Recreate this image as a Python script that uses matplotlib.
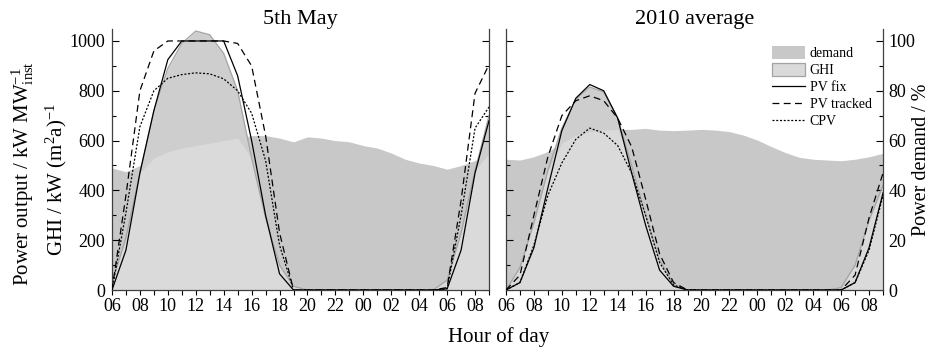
import numpy as np
import matplotlib
matplotlib.use("Agg")
import matplotlib.pyplot as plt
from matplotlib.patches import Patch
from matplotlib.lines import Line2D

plt.rcParams['font.family'] = ['Liberation Serif', 'DejaVu Serif']
plt.rcParams['mathtext.fontset'] = 'custom'
plt.rcParams['mathtext.rm'] = 'Liberation Serif'
plt.rcParams['mathtext.it'] = 'Liberation Serif:italic'

# hours from 06 to 09 next day
hours = list(range(6, 34))

# ---- 5th May ----
may_demand = [49, 47.5, 50, 53, 55.5, 57, 58, 59, 60, 61, 62, 62, 61, 59.5,
               61.5, 61, 60, 59.5, 58, 57, 55, 52.5, 51, 50, 48.5, 50, 52, 55]
may_ghi = [30, 210, 470, 720, 890, 990, 1040, 1025, 950, 800, 530, 290, 100, 15,
           0, 0, 0, 0, 0, 0, 0, 0, 0, 0, 40, 230, 480, 700]
may_pvfix = [0, 160, 470, 720, 925, 1000, 1000, 1000, 1000, 860, 600, 300, 65, 0,
             0, 0, 0, 0, 0, 0, 0, 0, 0, 0, 5, 160, 470, 680]
may_pvtrk = [0, 380, 800, 960, 1000, 1000, 1000, 1000, 1000, 990, 900, 620, 230, 0,
             0, 0, 0, 0, 0, 0, 0, 0, 0, 0, 10, 360, 790, 905]
may_cpv = [0, 310, 656, 800, 850, 865, 872, 868, 848, 800, 710, 520, 180, 0,
           0, 0, 0, 0, 0, 0, 0, 0, 0, 0, 5, 300, 650, 735]

# ---- 2010 average ----
avg_demand = [52.5, 52.2, 53.5, 55.6, 58.9, 62.2, 63.6, 64.2, 64.5, 64.5, 64.9, 64.2,
              64.0, 64.2, 64.5, 64.2, 63.6, 62.2, 60.2, 57.6, 55.2, 53.3, 52.5, 52.2,
              51.9, 52.5, 53.5, 54.9]
avg_ghi = [0, 90, 270, 480, 650, 765, 815, 795, 690, 500, 300, 120, 20, 0,
           0, 0, 0, 0, 0, 0, 0, 0, 0, 0, 10, 100, 280, 420]
avg_pvfix = [0, 30, 170, 410, 640, 770, 825, 800, 690, 470, 260, 80, 15, 0,
             0, 0, 0, 0, 0, 0, 0, 0, 0, 0, 0, 30, 170, 390]
avg_pvtrk = [0, 60, 300, 535, 700, 760, 780, 760, 690, 575, 365, 145, 30, 0,
             0, 0, 0, 0, 0, 0, 0, 0, 0, 0, 0, 60, 290, 470]
avg_cpv = [0, 30, 180, 380, 510, 605, 650, 630, 580, 470, 300, 110, 20, 0,
           0, 0, 0, 0, 0, 0, 0, 0, 0, 0, 0, 30, 160, 380]

titles = ["5th May", "2010 average"]
series = [
    (may_demand, may_ghi, may_pvfix, may_pvtrk, may_cpv),
    (avg_demand, avg_ghi, avg_pvfix, avg_pvtrk, avg_cpv),
]

C_DEM = "#c8c8c8"
C_GHI = "#cecece"
C_OVL = "#dadada"
C_EDGE = "#a4a4a4"

fig = plt.figure(figsize=(9.37, 3.5), dpi=100)
axL = fig.add_axes([0.1195, 0.1714, 0.4024, 0.7457])
axR = fig.add_axes([0.5400, 0.1714, 0.4024, 0.7457])

YMAX = 1048
x = np.array(hours, dtype=float)
dash = (0, (5.5, 3.5))
dot = (0, (1.6, 1.4))

for i, (ax, t, s) in enumerate(zip([axL, axR], titles, series)):
    dem, ghi, pvf, pvt, cpv = [np.array(v, dtype=float) for v in s]
    dem10 = dem * 10
    ax.fill_between(x, 0, dem10, color=C_DEM, lw=0, zorder=1)
    ax.fill_between(x, 0, ghi, color=C_GHI, lw=0, zorder=1.5)
    ax.fill_between(x, 0, np.minimum(dem10, ghi), color=C_OVL, lw=0, zorder=2)
    ax.plot(x, ghi, color=C_EDGE, lw=0.9, zorder=2.5)
    ax.plot(x, pvf, color="black", lw=0.9, zorder=3)
    ax.plot(x, pvt, color="black", lw=0.9, ls=dash, zorder=3)
    ax.plot(x, cpv, color="black", lw=0.9, ls=dot, zorder=3)

    ax.set_xlim(6, 33)
    ax.set_ylim(0, YMAX)
    ax.set_title(t, fontsize=16, pad=3)
    ax.spines['top'].set_visible(False)
    for sp in ax.spines.values():
        sp.set_linewidth(0.9)
        sp.set_color("#404040")
    ax.set_xticks(np.arange(6, 34, 2))
    ax.set_xticks(np.arange(6, 34, 1), minor=True)
    ax.set_xticklabels(["%02d" % (h % 24) for h in range(6, 34, 2)])
    ax.tick_params(axis='x', which='both', direction='out', length=3.5, width=0.8,
                   labelsize=13, pad=2)
    ax.set_yticks(np.arange(0, 1001, 200))
    ax.set_yticks(np.arange(100, 1001, 200), minor=True)
    ax.tick_params(axis='y', which='major', direction='in', length=5, width=0.8,
                   left=True, right=True, labelsize=13, pad=5)
    ax.tick_params(axis='y', which='minor', direction='in', length=3, width=0.8,
                   left=True, right=True)
    if i == 1:
        ax.tick_params(axis='y', labelleft=False, labelright=True, pad=4)
        ax.set_yticklabels([str(v // 10) for v in range(0, 1001, 200)])

fig.text(0.983, 0.545, "Power demand / %", rotation=90,
         ha='center', va='center', fontsize=14.5)
fig.text(0.024, 0.505, r"Power output / kW MW$^{-1}_{\rm inst}$", rotation=90,
         ha='center', va='center', fontsize=15)
fig.text(0.060, 0.486, r"GHI / kW (m$^{2}$a)$^{-1}$", rotation=90,
         ha='center', va='center', fontsize=15)
fig.text(0.532, 0.037, "Hour of day", ha='center', va='center', fontsize=15)

handles = [
    Patch(facecolor=C_DEM, edgecolor='none'),
    Patch(facecolor=C_OVL, edgecolor=C_EDGE, lw=0.9),
    Line2D([], [], color='black', lw=0.9),
    Line2D([], [], color='black', lw=0.9, ls=dash),
    Line2D([], [], color='black', lw=0.9, ls=dot),
]
labels = ["demand", "GHI", "PV fix", "PV tracked", "CPV"]
axR.legend(handles, labels, loc='upper right', bbox_to_anchor=(0.985, 0.955),
           frameon=False, fontsize=10, handlelength=2.4, handleheight=1.0,
           labelspacing=0.22, handletextpad=0.35, borderaxespad=0)

fig.savefig("out.png", dpi=100)
